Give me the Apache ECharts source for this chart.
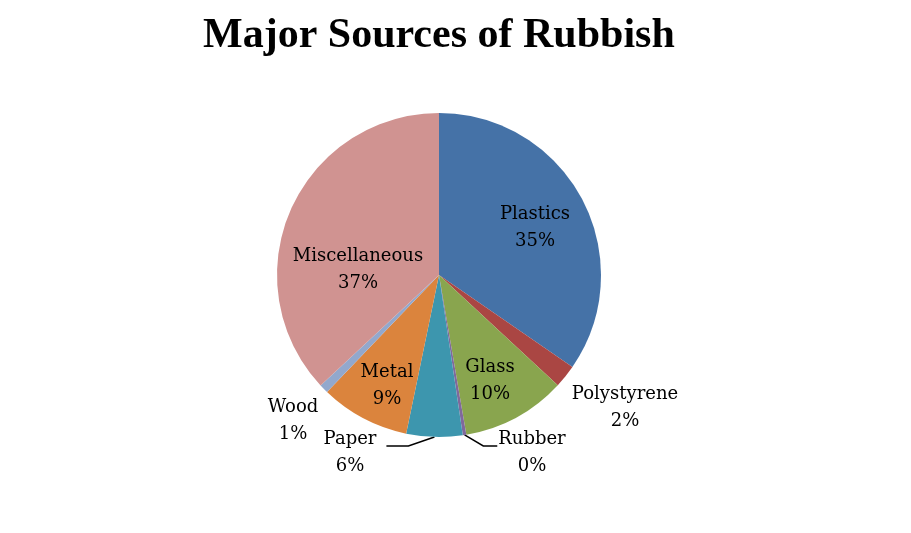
<!DOCTYPE html>
<html>
<head>
<meta charset="utf-8">
<script src="https://cdn.jsdelivr.net/npm/echarts@6/dist/echarts.min.js"></script>
<style>
  html, body { margin: 0; padding: 0; background: #fff; }
  #main { width: 911px; height: 533px; }
</style>
</head>
<body>
<div id="main"></div>
<script>
    // data (percent of total)
    var categories = ['Plastics', 'Polystyrene', 'Glass', 'Rubber', 'Paper', 'Metal', 'Wood', 'Miscellaneous'];
    var values = [34.6, 2.3, 10.4, 0.35, 5.6, 8.9, 0.9, 36.95];
    var colors = ['#4572A7', '#AA4643', '#89A54E', '#80699B', '#3D96AE', '#DB843D', '#92A8CD', '#D09391'];
    var insideLabels = ['Plastics', 'Glass', 'Metal', 'Miscellaneous'];

    var cx = 439, cy = 275, r = 162;
    // where each label block sits, relative to the pie centre
    var labelOffset = {
        'Plastics': [96, -47],
        'Polystyrene': [186, 133],
        'Glass': [51, 106],
        'Rubber': [93, 178],
        'Paper': [-89, 178],
        'Metal': [-52, 111],
        'Wood': [-146, 146],
        'Miscellaneous': [-81, -5]
    };

    var total = values.reduce(function (a, b) { return a + b; }, 0);
    var midAngle = [];
    var acc = 0;
    for (var i = 0; i < values.length; i++) {
        midAngle.push((acc + values[i] / 2) / total * Math.PI * 2);
        acc += values[i];
    }

    var pieData = [];
    for (var i = 0; i < categories.length; i++) {
        var inside = insideLabels.indexOf(categories[i]) >= 0;
        var leader = categories[i] === 'Paper' || categories[i] === 'Rubber';
        pieData.push({
            name: categories[i],
            value: values[i],
            itemStyle: { color: colors[i] },
            label: { position: inside ? 'inside' : 'outside' },
            labelLine: { show: leader }
        });
    }

    var myChart = echarts.init(document.getElementById('main'));
    var option = {
        animation: false,
        title: {
            text: 'Major Sources of Rubbish',
            left: 198,
            top: 10,
            textStyle: {
                fontFamily: 'Liberation Serif',
                fontWeight: 'bold',
                fontSize: 42,
                color: '#000'
            }
        },
        series: [
            {
                type: 'pie',
                center: [cx, cy],
                radius: r,
                startAngle: 90,
                clockwise: true,
                avoidLabelOverlap: false,
                percentPrecision: 0,
                data: pieData,
                itemStyle: { borderWidth: 0 },
                label: {
                    formatter: '{b}\n{d}%',
                    fontFamily: 'DejaVu Serif',
                    fontSize: 18,
                    lineHeight: 27,
                    color: '#000',
                    align: 'center'
                },
                labelLine: {
                    lineStyle: { color: '#000', width: 1.5 }
                },
                labelLayout: function (params) {
                    var name = categories[params.dataIndex];
                    var off = labelOffset[name];
                    var x = cx + off[0], y = cy + off[1];
                    var res = { x: x, y: y, align: 'center', verticalAlign: 'middle' };
                    if (name === 'Paper' || name === 'Rubber') {
                        var a = midAngle[params.dataIndex];
                        var p0 = [cx + r * Math.sin(a), cy - r * Math.cos(a)];
                        var w = params.labelRect.width;
                        var ly = y - 7;
                        if (name === 'Paper') {
                            var e = x + w / 2;
                            res.labelLinePoints = [p0, [e + 32, ly], [e + 10, ly]];
                        } else {
                            var s = x - w / 2;
                            res.labelLinePoints = [p0, [s - 15, ly], [s - 1, ly]];
                        }
                    }
                    return res;
                }
            }
        ]
    };
    myChart.setOption(option);
</script>
</body>
</html>
